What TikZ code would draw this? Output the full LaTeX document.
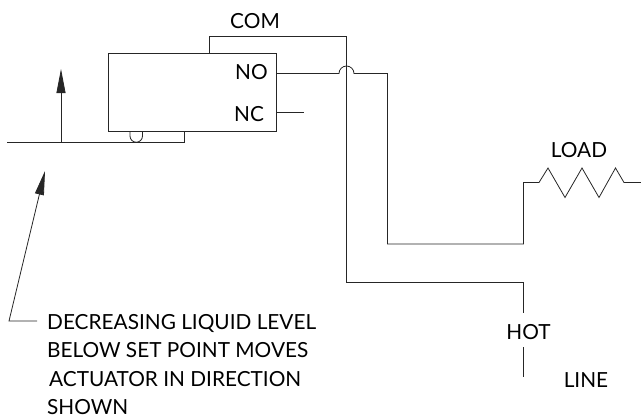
\documentclass[tikz,border=0pt]{standalone}
\usepackage{fontspec}
\setmainfont{Lato}
\usepackage{tikz}
\usetikzlibrary{arrows.meta}
\tikzset{
    wire/.style = {draw=black!85, line width=0.8pt},
    pointer/.style = {wire, -{Triangle[length=24pt, width=9pt]}},
    tag/.style = {inner sep=0pt, anchor=base, font=\fontsize{20.8}{20.8}\selectfont},
    note/.style = {tag, anchor=base west},
    switch_box/.style = {draw=black!85, line width=0.8pt, inner sep=0pt, minimum width=168pt, minimum height=78pt}
}

\begin{document}
\begin{tikzpicture}[x=1pt, y=-1pt]
    \useasboundingbox (0,0) rectangle (641,416);

    % switch
    \node [switch_box] (switch) at (192,92) {};
    \node [tag] (com) at (255,28) {COM};
    \node [tag] (no) at (251.5,79) {NO};
    \node [tag] (nc) at (249,121.5) {NC};

    \coordinate (com_top) at (209,36);
    \coordinate (com_drop) at (346.5,36);
    \coordinate (com_corner) at (346.5,282.5);
    \coordinate (hot_top) at (523.5,282.5);
    \coordinate (hot_end) at (523.5,313);
    \coordinate (hot_start) at (523.5,347);
    \coordinate (hot_low) at (523.5,377);
    \draw [wire] (switch.north -| com_top) -- (com_top) -- (com_drop) -- (com_corner) -- (hot_top) -- (hot_end);
    \draw [wire] (hot_start) -- (hot_low);

    % normally open contact, hops over the common wire
    \coordinate (hop_in) at (339,73.5);
    \coordinate (no_corner) at (387.5,73.5);
    \coordinate (no_low) at (387.5,244);
    \coordinate (load_low) at (523.5,244);
    \coordinate (load_in) at (523.5,182.5);
    \draw [wire] (switch.east |- hop_in) -- (hop_in) arc (180:360:7.5) -- (no_corner) -- (no_low) -- (load_low) -- (load_in)
        -- (539,182.5) -- (548,168) -- (565,197.5) -- (582,168) -- (599,197.5) -- (615.5,168) -- (624,182.5) -- (641,182.5);
    \node [tag] (load) at (579,157) {LOAD};

    \coordinate (nc_end) at (304,112);
    \draw [wire] (switch.east |- nc_end) -- (nc_end);

    % actuator
    \coordinate (act_left) at (7,142);
    \coordinate (act_stem) at (61,142);
    \coordinate (act_tip) at (61,69);
    \coordinate (act_right) at (184,142);
    \coordinate (act_bump) at (130,131);
    \draw [wire] (act_left) -- (act_right) -- (switch.south -| act_right);
    \draw [pointer] (act_stem) -- (act_tip);
    \draw [wire] (act_bump) -- (130,136) arc (180:0:6.25) -- (142.5,131);

    % text
    \coordinate (lead_start) at (37,321);
    \coordinate (lead_bend) at (9,321);
    \coordinate (lead_tip) at (45,171);
    \draw [pointer] (lead_start) -- (lead_bend) -- (lead_tip);
    \node [note] (note_a) at (47,329) {DECREASING LIQUID LEVEL};
    \node [note] (note_b) at (47,357.5) {BELOW SET POINT MOVES};
    \node [note] (note_c) at (49,386) {ACTUATOR IN DIRECTION};
    \node [note] (note_d) at (47,414) {SHOWN};
    \node [tag] (hot) at (528.5,339) {HOT};
    \node [tag] (line) at (586,387.5) {LINE};
\end{tikzpicture}
\end{document}
